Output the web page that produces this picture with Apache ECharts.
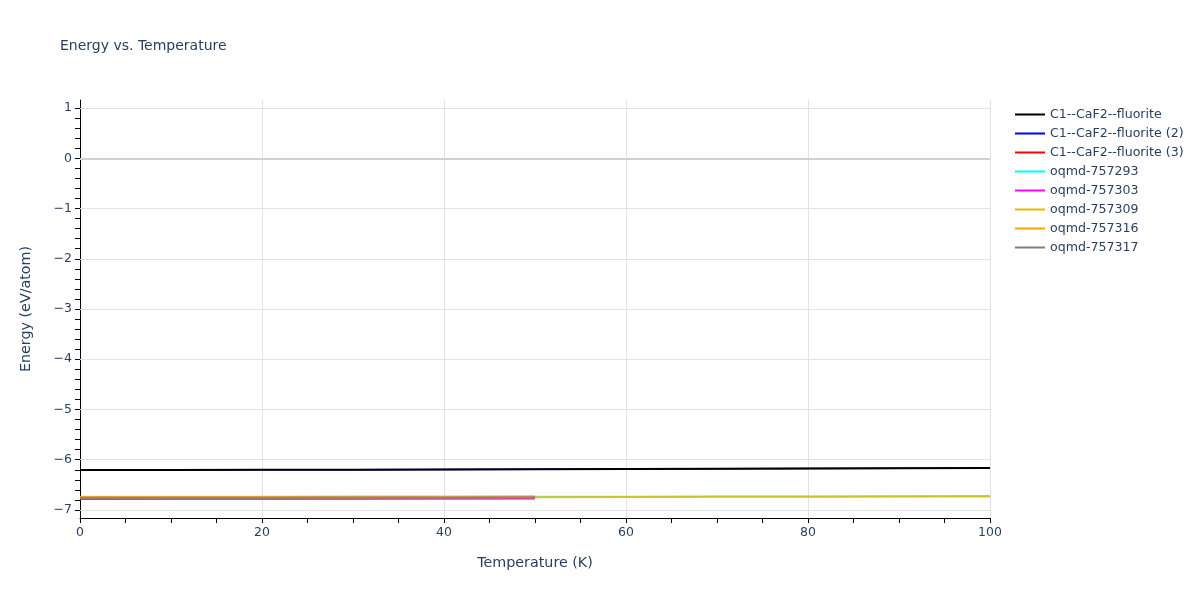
<!DOCTYPE html>
<html><head><meta charset="utf-8">
<script src="https://cdn.jsdelivr.net/npm/echarts@6/dist/echarts.min.js"></script>
<style>html,body{margin:0;padding:0;background:#fff}#c{width:1200px;height:600px}</style>
</head><body><div id="c"></div>
<script>
const temps100 = [0,10,20,30,40,50,60,70,80,90,100];
const temps50 = [0,10,20,30,40,50];
const seriesNames = ['C1--CaF2--fluorite','C1--CaF2--fluorite (2)','C1--CaF2--fluorite (3)','oqmd-757293','oqmd-757303','oqmd-757309','oqmd-757316','oqmd-757317'];
const seriesColors = ['#000000','#0000ff','#ff0000','#00ffff','#ff00ff','#e6b800','#ffa500','#808080'];
const fluorite1 = [-6.205,-6.204,-6.202,-6.199,-6.195,-6.191,-6.186,-6.181,-6.176,-6.171,-6.166];
const fluorite2 = [-6.205,-6.204,-6.202,-6.199,-6.195,-6.191,-6.186,-6.181,-6.176,-6.171,-6.166];
const fluorite3 = [-6.780,-6.779,-6.778,-6.776,-6.773,-6.770];
const oqmd293 = [-6.748,-6.747,-6.746,-6.744,-6.742,-6.739,-6.736,-6.733,-6.730,-6.727,-6.724];
const oqmd303 = [-6.777,-6.776,-6.775,-6.773,-6.770,-6.767];
const oqmd309 = [-6.754,-6.753,-6.752,-6.750,-6.748,-6.745,-6.742,-6.739,-6.736,-6.733,-6.730];
const oqmd316 = [-6.738,-6.737,-6.736,-6.734,-6.731,-6.728];
const oqmd317 = [-6.758,-6.757,-6.755,-6.753,-6.750,-6.747];
const seriesX = [temps100,temps100,temps50,temps100,temps50,temps100,temps50,temps50];
const seriesY = [fluorite1,fluorite2,fluorite3,oqmd293,oqmd303,oqmd309,oqmd316,oqmd317];
const seriesZ = [12,3,5,4,6,7,8,9];
const seriesOpacity = [1,1,0.75,0.75,0.75,0.85,0.75,0.8];
const seriesWidth = [2,1.4,2,2,2,2,2,2];
const yLabels = [-7,-6,-5,-4,-3,-2,-1,0,1];
const yMinor = [];
for (let v = -7.0; v <= 1.0001; v += 0.2) yMinor.push(Math.round(v*10)/10);

const txt = '#2a3f5f';
const font = 'DejaVu Sans, Verdana, sans-serif';
const series = seriesNames.map((n,i)=>({
  name:n, type:'line', showSymbol:false, symbol:'none',
  data: seriesX[i].map((x,j)=>[x, seriesY[i][j]]),
  lineStyle:{width:seriesWidth[i],color:seriesColors[i],opacity:seriesOpacity[i]}, itemStyle:{color:seriesColors[i]},
  z: seriesZ[i]
}));
series.push({
  name:'grid', type:'line', data:[], silent:true, z:1,
  markLine:{silent:true, symbol:'none', label:{show:false},
    data: yLabels.map(v=>({yAxis:v, lineStyle:{color: v===0 ? '#d0d0d0' : '#e2e2e2', width: v===0 ? 2 : 1, type:'solid'}}))}
});
const chart = echarts.init(document.getElementById('c'));
chart.setOption({
  animation:false,
  title:{text:'Energy vs. Temperature', left:55, top:34, textStyle:{fontFamily:font, fontSize:14, fontWeight:'normal', color:txt}},
  legend:{orient:'vertical', left:1010, top:103, itemWidth:30, itemHeight:2, itemGap:6, icon:'rect',
    data: seriesNames,
    textStyle:{fontFamily:font, fontSize:12.6, color:txt}},
  grid:{left:80, right:210, top:100, bottom:82, containLabel:false},
  xAxis:{type:'value', min:0, max:100, interval:20,
    name:'Temperature (K)', nameLocation:'middle', nameGap:38,
    nameTextStyle:{fontFamily:font, fontSize:14.3, color:txt},
    axisLine:{show:true, onZero:false, lineStyle:{color:'#000', width:1}},
    axisTick:{show:true, length:5, lineStyle:{color:'#000'}},
    minorTick:{show:true, splitNumber:4, length:5, lineStyle:{color:'#000'}},
    axisLabel:{fontFamily:font, fontSize:12.5, color:txt, margin:8},
    splitLine:{show:true, lineStyle:{color:'#e2e2e2'}}},
  yAxis:{type:'value', min:-7.16, max:1.16,
    name:'Energy (eV/atom)', nameLocation:'middle', nameGap:47,
    nameTextStyle:{fontFamily:font, fontSize:14.3, color:txt},
    axisLine:{show:true, onZero:false, lineStyle:{color:'#000', width:1}},
    axisTick:{show:true, length:5, customValues:yMinor, lineStyle:{color:'#000'}},
    axisLabel:{fontFamily:font, fontSize:12.5, color:txt, margin:8, customValues:yLabels,
      formatter:v=> v<0 ? '\u2212'+Math.abs(v) : ''+v},
    splitLine:{show:false}},
  series
});
</script></body></html>
